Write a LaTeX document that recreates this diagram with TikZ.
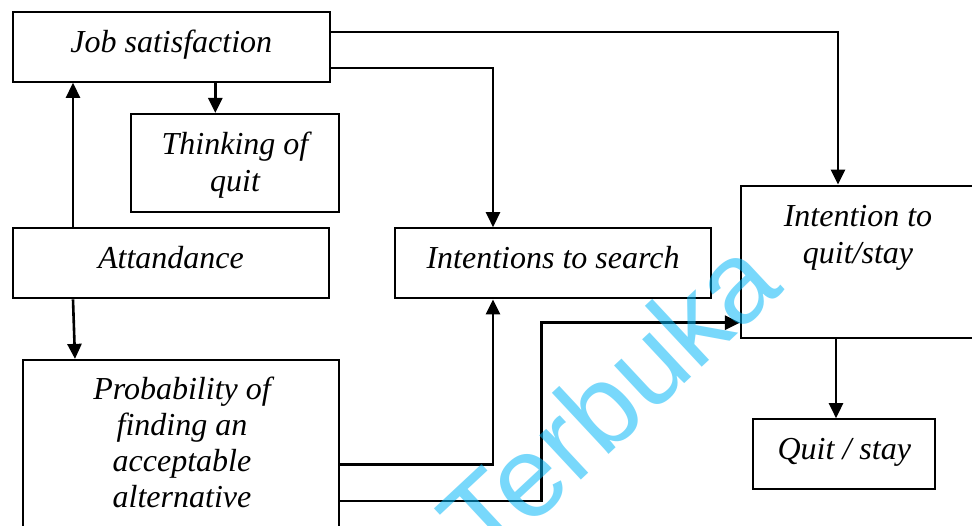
\documentclass[tikz,border=0pt]{standalone}
\usepackage{fontspec}
\setmainfont{Liberation Serif}
\newfontfamily\wmfont{Liberation Sans}
\usetikzlibrary{arrows.meta}
\definecolor{wmblue}{RGB}{0,182,248}
\begin{document}
\begin{tikzpicture}[x=1pt,y=-1pt,
  box/.style={draw, line width=2.2pt, inner sep=0pt},
  lbl/.style={font={\fontsize{32}{37}\selectfont\itshape}, text height=22pt, text depth=10.6pt},
  para/.style={font={\fontsize{32}{37}\selectfont\itshape}, align=center, inner sep=0pt, anchor=north},
  link/.style={line width=2.6pt, -{Triangle[length=15pt,width=14pt]}}]

% page frame
\useasboundingbox (0,0) rectangle (972,526);
\fill[white] (0,0) rectangle (972,526);
\clip (0,0) rectangle (972,526);

% boxes
\node[box, lbl, minimum width=317pt, minimum height=69.4pt] (js) at (171.3,47) {Job satisfaction};
\node[box, minimum width=208.6pt, minimum height=97.7pt] (think) at (235,162.9) {};
\node[para] (thinkt) at (235,131.5) {\rule{0pt}{22pt}Thinking of\\quit};
\node[box, lbl, minimum width=316.6pt, minimum height=70pt] (att) at (171,263.3) {Attandance};
\node[box, lbl, minimum width=316pt, minimum height=70pt] (is) at (553,263.3) {Intentions to search};
\node[box, minimum width=316.6pt, minimum height=210pt] (prob) at (181,465) {};
\node[para, font={\fontsize{32}{36}\selectfont\itshape}] (probt) at (182,377) {\rule{0pt}{22pt}Probability of\\finding an\\acceptable\\alternative};
\node[box, minimum width=234pt, minimum height=152pt] (iq) at (858,261.7) {};
\node[para] (iqt) at (858,204) {\rule{0pt}{22pt}Intention to\\quit/stay};
\node[box, lbl, minimum width=182pt, minimum height=70pt] (qs) at (844.3,454.3) {Quit / stay};

% connectors
\draw[link] ([yshift=15pt]js.east) -| ([xshift=-20pt]iq.north);
\draw[link] ([yshift=-21pt]js.east) -| ([xshift=-60pt]is.north);
\draw[link] ([xshift=44pt]js.south) -- ([xshift=44pt]js.south |- think.north);
\draw[link] ([xshift=-98pt]att.north) -- ([xshift=-98pt]att.north |- js.south);
\draw[link] ([xshift=-98pt]att.south) -- ([xshift=-106pt]prob.north);
\draw[link] ([yshift=-105.7pt]prob.north east) -| ([xshift=-60pt]is.south);
\draw[link] ([yshift=-142pt]prob.north east) -- ++(201,0) |- ([yshift=-61pt]iq.west);
\draw[link] ([xshift=-22pt]iq.south) -- ([xshift=-22pt]iq.south |- qs.north);

% watermark
\node[font={\wmfont\fontsize{115}{120}\selectfont}, text=wmblue, opacity=0.53, rotate=43] (wm) at (608,399) {Terbuka};
\end{tikzpicture}
\end{document}
